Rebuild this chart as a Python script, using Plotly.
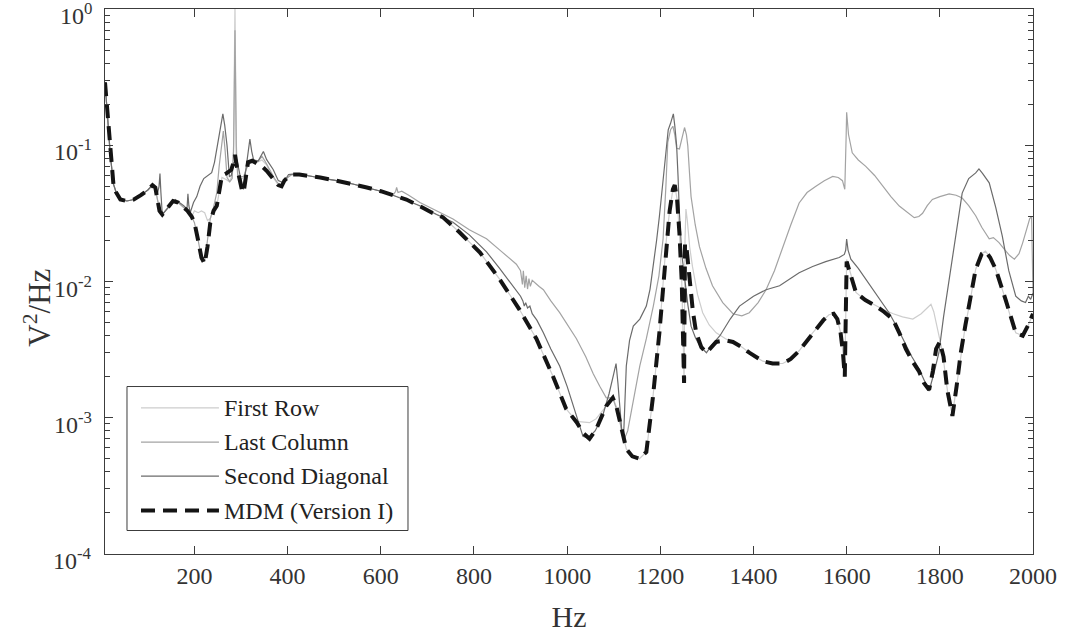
import math
import plotly.graph_objects as go

# ---------------- data ----------------
mdm_hz = [8, 12, 15, 19, 23, 26, 32, 41, 55, 70,
          85, 100, 110, 116, 120, 125, 131, 140, 154, 165,
          173, 185, 194, 200, 208, 215, 222, 228, 234, 241,
          248, 253, 259, 268, 275, 279, 284, 287, 291, 297,
          303, 306, 310, 315, 324, 334, 345, 355, 362, 372,
          380, 387, 393, 400, 409, 425, 441, 470, 505, 540,
          570, 600, 626, 655, 684, 710, 733, 770, 813, 855,
          898, 934, 970, 998, 1020, 1035, 1048, 1062, 1084, 1098,
          1106, 1113, 1127, 1140, 1155, 1170, 1178, 1184, 1198, 1206,
          1213, 1220, 1227, 1231, 1236, 1241, 1246, 1249, 1251, 1253,
          1256, 1263, 1270, 1277, 1288, 1299, 1310, 1320, 1340, 1356,
          1375, 1391, 1420, 1441, 1463, 1480, 1498, 1527, 1550, 1562,
          1572, 1580, 1587, 1592, 1596, 1600, 1610, 1620, 1640, 1663,
          1680, 1699, 1713, 1727, 1741, 1755, 1766, 1777, 1785, 1792,
          1800, 1808, 1816, 1827, 1836, 1845, 1855, 1863, 1877, 1890,
          1898, 1908, 1920, 1941, 1955, 1963, 1978, 1990, 2000]
mdm_val = [0.29, 0.2, 0.138, 0.088, 0.062, 0.052, 0.045, 0.040, 0.039, 0.040,
           0.043, 0.047, 0.051, 0.049, 0.041, 0.033, 0.031, 0.034, 0.039, 0.038,
           0.036, 0.033, 0.030, 0.027, 0.020, 0.015, 0.0135, 0.018, 0.027, 0.033,
           0.036, 0.045, 0.060, 0.062, 0.064, 0.066, 0.075, 0.085, 0.070, 0.055,
           0.045, 0.046, 0.060, 0.075, 0.077, 0.074, 0.070, 0.065, 0.061, 0.055,
           0.051, 0.050, 0.055, 0.058, 0.061, 0.061, 0.060, 0.058, 0.055, 0.052,
           0.049, 0.046, 0.043, 0.040, 0.0357, 0.032, 0.0297, 0.0228, 0.0163, 0.0104,
           0.0062, 0.0038, 0.0020, 0.00116, 0.00093, 0.00077, 0.00070, 0.00082, 0.00122, 0.0014,
           0.0012, 0.00093, 0.00059, 0.00052, 0.00050, 0.00056, 0.0009, 0.0014, 0.0042, 0.009,
           0.0203, 0.033, 0.0475, 0.051, 0.040, 0.0228, 0.010, 0.004, 0.0018, 0.019,
           0.018, 0.0104, 0.006, 0.0042, 0.0033, 0.0030, 0.0033, 0.0036, 0.0037, 0.0036,
           0.0033, 0.0030, 0.0026, 0.0025, 0.0025, 0.0027, 0.0031, 0.0042, 0.0052, 0.0057,
           0.0058, 0.0053, 0.0042, 0.0030, 0.0020, 0.014, 0.011, 0.0083, 0.0073, 0.0066,
           0.0060, 0.0053, 0.0042, 0.0032, 0.0026, 0.0022, 0.0018, 0.0016, 0.0022, 0.0032,
           0.0036, 0.0028, 0.0016, 0.00103, 0.0017, 0.0030, 0.0048, 0.0066, 0.0123, 0.0160,
           0.0167, 0.0150, 0.0123, 0.0074, 0.0050, 0.0042, 0.0040, 0.0048, 0.0058]

first_row_hz = [8, 12, 15, 19, 23, 26, 32, 41, 55, 70,
                85, 100, 110, 116, 120, 125, 131, 140, 154, 165,
                173, 185, 194, 200, 208, 215, 222, 228, 234, 241,
                248, 253, 259, 268, 275, 281, 284, 286, 287, 288,
                290, 293, 297, 303, 306, 310, 315, 324, 334, 345,
                355, 362, 372, 380, 387, 393, 400, 409, 425, 441,
                470, 505, 540, 570, 600, 626, 655, 684, 710, 733,
                770, 813, 855, 898, 934, 970, 998, 1020, 1035, 1048,
                1062, 1084, 1098, 1106, 1113, 1127, 1140, 1155, 1170, 1178,
                1184, 1198, 1206, 1213, 1220, 1227, 1231, 1236, 1241, 1246,
                1249, 1251, 1253, 1255, 1258, 1263, 1269, 1280, 1291, 1305,
                1320, 1340, 1356, 1375, 1391, 1420, 1441, 1463, 1480, 1498,
                1527, 1550, 1562, 1572, 1580, 1587, 1592, 1596, 1600, 1610,
                1620, 1640, 1663, 1680, 1700, 1720, 1742, 1760, 1775, 1781,
                1787, 1795, 1806, 1814, 1820, 1827, 1836, 1845, 1855, 1863,
                1877, 1890, 1898, 1908, 1920, 1941, 1955, 1963, 1978, 1990,
                2000]
first_row_val = [0.29, 0.2, 0.138, 0.088, 0.062, 0.052, 0.045, 0.040, 0.039, 0.040,
                 0.043, 0.047, 0.051, 0.049, 0.041, 0.033, 0.031, 0.034, 0.039, 0.038,
                 0.036, 0.033, 0.030, 0.033, 0.032, 0.033, 0.032, 0.028, 0.029, 0.034,
                 0.036, 0.045, 0.058, 0.056, 0.054, 0.060, 0.10, 0.5, 1.05, 0.45,
                 0.10, 0.062, 0.056, 0.057, 0.059, 0.065, 0.072, 0.076, 0.075, 0.078,
                 0.072, 0.063, 0.056, 0.051, 0.050, 0.054, 0.058, 0.061, 0.061, 0.060,
                 0.058, 0.055, 0.052, 0.049, 0.046, 0.043, 0.040, 0.0357, 0.032, 0.0297,
                 0.0228, 0.0163, 0.0104, 0.0062, 0.0038, 0.0020, 0.00116, 0.00094, 0.00093, 0.00092,
                 0.00098, 0.00122, 0.0014, 0.0012, 0.00093, 0.00059, 0.00052, 0.00050, 0.00056, 0.0009,
                 0.0014, 0.0042, 0.009, 0.0203, 0.033, 0.0475, 0.051, 0.040, 0.0228, 0.010,
                 0.004, 0.0018, 0.020, 0.034, 0.028, 0.018, 0.0129, 0.008, 0.0059, 0.0048,
                 0.0042, 0.0038, 0.0036, 0.0033, 0.0030, 0.0026, 0.0025, 0.0025, 0.0027, 0.0031,
                 0.0042, 0.0052, 0.0057, 0.0058, 0.0053, 0.0042, 0.0030, 0.0020, 0.0145, 0.011,
                 0.0083, 0.0073, 0.0066, 0.0062, 0.0058, 0.0055, 0.0053, 0.0058, 0.0065, 0.0068,
                 0.0060, 0.0045, 0.0030, 0.0018, 0.0013, 0.00105, 0.0017, 0.0030, 0.0048, 0.0066,
                 0.0123, 0.0160, 0.0167, 0.0150, 0.0123, 0.0074, 0.0050, 0.0042, 0.0040, 0.0048,
                 0.0058]

last_col_hz = [8, 12, 15, 19, 23, 26, 32, 41, 55, 70,
               85, 100, 110, 116, 120, 125, 131, 140, 154, 165,
               173, 185, 194, 200, 208, 215, 222, 228, 234, 241,
               248, 253, 258, 262, 266, 270, 276, 281, 284, 286,
               287, 288, 290, 293, 300, 306, 312, 318, 327, 336,
               345, 352, 362, 372, 384, 391, 400, 409, 425, 441,
               470, 505, 540, 570, 600, 626, 632, 634, 637, 645,
               660, 684, 720, 755, 790, 827, 860, 891, 900, 904,
               906, 909, 912, 915, 918, 921, 925, 930, 940, 949,
               965, 984, 1000, 1020, 1040, 1056, 1070, 1084, 1098, 1105,
               1112, 1118, 1123, 1130, 1140, 1156, 1170, 1185, 1197, 1206,
               1212, 1216, 1222, 1227, 1231, 1235, 1241, 1246, 1252, 1256,
               1259, 1263, 1266, 1275, 1284, 1298, 1312, 1334, 1356, 1375,
               1391, 1410, 1427, 1445, 1463, 1480, 1498, 1515, 1534, 1552,
               1570, 1582, 1591, 1596, 1599, 1600, 1604, 1612, 1625, 1641,
               1660, 1677, 1695, 1713, 1730, 1745, 1755, 1763, 1773, 1784,
               1800, 1820, 1835, 1848, 1862, 1877, 1890, 1906, 1915, 1927,
               1940, 1950, 1960, 1970, 1978, 1986, 1993, 1997, 2000]
last_col_val = [0.29, 0.2, 0.138, 0.088, 0.062, 0.052, 0.045, 0.040, 0.039, 0.040,
                0.043, 0.047, 0.051, 0.049, 0.041, 0.034, 0.031, 0.034, 0.039, 0.038,
                0.036, 0.033, 0.030, 0.027, 0.020, 0.015, 0.014, 0.021, 0.029, 0.035,
                0.045, 0.070, 0.10, 0.127, 0.09, 0.058, 0.054, 0.057, 0.09, 0.4,
                0.70, 0.35, 0.08, 0.060, 0.059, 0.059, 0.068, 0.074, 0.078, 0.076,
                0.083, 0.076, 0.065, 0.057, 0.050, 0.053, 0.058, 0.061, 0.061, 0.060,
                0.058, 0.055, 0.052, 0.049, 0.046, 0.043, 0.046, 0.049, 0.045, 0.046,
                0.043, 0.038, 0.033, 0.0288, 0.024, 0.0206, 0.0165, 0.0134, 0.012, 0.0095,
                0.012, 0.009, 0.011, 0.0088, 0.0105, 0.0092, 0.0102, 0.0098, 0.0092, 0.0087,
                0.0072, 0.0059, 0.0048, 0.0038, 0.0028, 0.0021, 0.0017, 0.0014, 0.0014, 0.0012,
                0.0010, 0.00075, 0.0007, 0.0008, 0.0012, 0.0024, 0.0038, 0.0066, 0.011, 0.0206,
                0.05, 0.105, 0.13, 0.138, 0.12, 0.095, 0.094, 0.11, 0.135, 0.12,
                0.099, 0.06, 0.042, 0.026, 0.018, 0.0125, 0.0093, 0.0070, 0.0058, 0.0056,
                0.0059, 0.0070, 0.0087, 0.012, 0.018, 0.026, 0.0377, 0.045, 0.050, 0.055,
                0.059, 0.058, 0.055, 0.0475, 0.12, 0.175, 0.12, 0.088, 0.078, 0.070,
                0.060, 0.050, 0.042, 0.0358, 0.032, 0.0294, 0.030, 0.0317, 0.036, 0.040,
                0.042, 0.044, 0.043, 0.041, 0.036, 0.0304, 0.025, 0.0206, 0.021, 0.0193,
                0.017, 0.0155, 0.0146, 0.016, 0.0193, 0.024, 0.029, 0.030, 0.008]

second_diag_hz = [8, 12, 15, 19, 23, 26, 32, 41, 55, 70,
                  85, 100, 110, 116, 121, 124, 126, 128, 131, 141,
                  159, 177, 184, 186, 188, 191, 198, 205, 212, 220,
                  226, 237, 243, 248, 255, 261, 265, 270, 275, 279,
                  284, 291, 298, 305, 310, 315, 319, 323, 327, 337,
                  343, 348, 355, 369, 380, 391, 402, 420, 441, 470,
                  505, 540, 570, 600, 626, 655, 684, 720, 755, 790,
                  827, 855, 884, 900, 905, 908, 911, 915, 920, 925,
                  935, 949, 965, 984, 1000, 1013, 1025, 1034, 1045, 1060,
                  1075, 1090, 1100, 1105, 1109, 1113, 1118, 1121, 1124, 1127,
                  1134, 1142, 1156, 1170, 1178, 1185, 1192, 1198, 1205, 1213,
                  1217, 1222, 1225, 1228, 1231, 1235, 1238, 1241, 1246, 1252,
                  1259, 1266, 1275, 1284, 1299, 1310, 1328, 1350, 1370, 1400,
                  1427, 1456, 1480, 1498, 1527, 1555, 1584, 1595, 1598, 1600,
                  1603, 1609, 1625, 1641, 1665, 1691, 1710, 1727, 1740, 1755,
                  1766, 1777, 1787, 1798, 1808, 1820, 1833, 1848, 1862, 1877,
                  1884, 1892, 1906, 1920, 1934, 1948, 1963, 1975, 1984, 1990,
                  1995, 2000]
second_diag_val = [0.29, 0.2, 0.138, 0.088, 0.062, 0.052, 0.045, 0.040, 0.039, 0.040,
                   0.043, 0.047, 0.051, 0.0475, 0.045, 0.050, 0.062, 0.045, 0.031, 0.034,
                   0.040, 0.036, 0.034, 0.044, 0.036, 0.032, 0.038, 0.042, 0.050, 0.057,
                   0.059, 0.063, 0.075, 0.093, 0.13, 0.17, 0.14, 0.099, 0.059, 0.060,
                   0.074, 0.0785, 0.060, 0.0475, 0.065, 0.090, 0.111, 0.090, 0.078, 0.077,
                   0.085, 0.090, 0.0785, 0.0665, 0.055, 0.053, 0.061, 0.062, 0.060, 0.058,
                   0.055, 0.052, 0.049, 0.046, 0.043, 0.0395, 0.036, 0.031, 0.0272, 0.022,
                   0.0165, 0.0125, 0.0093, 0.0078, 0.0072, 0.0066, 0.0070, 0.0064, 0.0066, 0.0058,
                   0.0052, 0.0042, 0.0032, 0.0024, 0.0017, 0.00123, 0.0009, 0.00073, 0.00071, 0.0008,
                   0.0010, 0.0015, 0.0021, 0.0025, 0.0018, 0.0012, 0.00075, 0.0007, 0.0013, 0.0024,
                   0.0037, 0.0047, 0.0053, 0.0066, 0.0088, 0.0129, 0.020, 0.030, 0.050, 0.099,
                   0.13, 0.145, 0.16, 0.17, 0.14, 0.10, 0.06, 0.032, 0.016, 0.0104,
                   0.0068, 0.0047, 0.0039, 0.0034, 0.0030, 0.0034, 0.0040, 0.0053, 0.0066, 0.0078,
                   0.0087, 0.0093, 0.0105, 0.0116, 0.0129, 0.0140, 0.0150, 0.0158, 0.017, 0.0205,
                   0.017, 0.0146, 0.0125, 0.0104, 0.0080, 0.0059, 0.0045, 0.0034, 0.0028, 0.0023,
                   0.0019, 0.00157, 0.0021, 0.0030, 0.0055, 0.0104, 0.020, 0.0446, 0.057, 0.0627,
                   0.067, 0.062, 0.053, 0.035, 0.0216, 0.012, 0.0078, 0.0072, 0.0070, 0.0078,
                   0.0074, 0.0082]

for a, b in [(mdm_hz, mdm_val), (first_row_hz, first_row_val),
             (last_col_hz, last_col_val), (second_diag_hz, second_diag_val)]:
    assert len(a) == len(b), (len(a), len(b))

series_names = ["First Row", "Last Column", "Second Diagonal", "MDM (Version I)"]
x_tick_vals = [200, 400, 600, 800, 1000, 1200, 1400, 1600, 1800, 2000]
y_tick_vals = [1e-4, 1e-3, 1e-2, 1e-1, 1e0]
y_tick_text = ["10<sup>-4</sup>", "10<sup>-3</sup>", "10<sup>-2</sup>",
               "10<sup>-1</sup>", "10<sup>0</sup>"]
x_title = "Hz"
y_title = "V<sup>2</sup>/Hz"

# ---------------- styling ----------------
FONT = "Liberation Serif"
C_FIRST = "#cdcdcd"
C_LAST = "#a3a3a3"
C_DIAG = "#6b6b6b"
C_MDM = "#141414"
AX = "#3c3c3c"
TXT = "#333333"
MDM_DASH = "14px,8px"

fig = go.Figure()
fig.add_trace(go.Scatter(x=first_row_hz, y=first_row_val, mode="lines",
                         name=series_names[0], line=dict(color=C_FIRST, width=1.2)))
fig.add_trace(go.Scatter(x=last_col_hz, y=last_col_val, mode="lines",
                         name=series_names[1], line=dict(color=C_LAST, width=1.2)))
fig.add_trace(go.Scatter(x=second_diag_hz, y=second_diag_val, mode="lines",
                         name=series_names[2], line=dict(color=C_DIAG, width=1.2)))
fig.add_trace(go.Scatter(x=mdm_hz, y=mdm_val, mode="lines",
                         name=series_names[3], line=dict(color=C_MDM, width=4, dash=MDM_DASH)))

fig.update_layout(
    width=1065, height=633,
    margin=dict(l=105, r=32, t=9, b=79, autoexpand=False),
    paper_bgcolor="white", plot_bgcolor="white",
    showlegend=False,
    font=dict(family=FONT, size=24, color=TXT),
)
fig.update_xaxes(
    range=[8, 2000], tickvals=x_tick_vals, automargin=False,
    ticks="inside", ticklen=8, tickcolor=AX, tickwidth=1,
    showline=True, linecolor=AX, linewidth=1, mirror="ticks",
    showgrid=False, zeroline=False,
    tickfont=dict(family=FONT, size=24, color=TXT),
    title=dict(text=x_title, font=dict(family=FONT, size=30, color=TXT), standoff=19),
)
fig.update_yaxes(
    type="log", range=[-4.0005, 0.0005], automargin=False,
    tickvals=y_tick_vals, showticklabels=False,
    ticks="inside", ticklen=8, tickcolor=AX, tickwidth=1,
    minor=dict(ticks="inside", ticklen=5, tickcolor=AX, dtick="D1", showgrid=False),
    showline=True, linecolor=AX, linewidth=1, mirror="ticks",
    showgrid=False, zeroline=False,
)

# y tick labels (placed like the reference: "10" body slightly below the tick)
for v, t in zip(y_tick_vals, y_tick_text):
    fig.add_annotation(x=0, xref="paper", y=math.log10(v), yref="y",
                       text=t, showarrow=False, xanchor="right", yanchor="middle",
                       xshift=-11, yshift=-5,
                       font=dict(family=FONT, size=24, color=TXT))

# y axis title
fig.add_annotation(x=-0.0722, xref="paper", y=0.452, yref="paper",
                   text=y_title, showarrow=False, textangle=-90,
                   xanchor="center", yanchor="middle",
                   font=dict(family=FONT, size=31, color=TXT))

# ---------------- legend (drawn as in the reference: long sample lines) ----------------
leg_box = dict(x0=0.0237, x1=0.3265, y0=0.0431, y1=0.3073)
leg_rows = [0.2683, 0.2051, 0.1428, 0.0798]
leg_line_x = (0.0388, 0.1228)
leg_text_x = 0.1293
fig.add_shape(type="rect", xref="paper", yref="paper", layer="above",
              line=dict(color=AX, width=1), fillcolor="white", **leg_box)
styles = [dict(color=C_FIRST, width=1.2), dict(color=C_LAST, width=1.2),
          dict(color=C_DIAG, width=1.2), dict(color=C_MDM, width=4, dash=MDM_DASH)]
for name, yy, st in zip(series_names, leg_rows, styles):
    fig.add_shape(type="line", xref="paper", yref="paper", layer="above",
                  x0=leg_line_x[0], x1=leg_line_x[1], y0=yy, y1=yy, line=st)
    fig.add_annotation(x=leg_text_x, y=yy, xref="paper", yref="paper",
                       text=name, showarrow=False, xanchor="left", yanchor="middle",
                       xshift=-3,
                       font=dict(family=FONT, size=24, color="#222222"))

fig.write_html("out.html")
